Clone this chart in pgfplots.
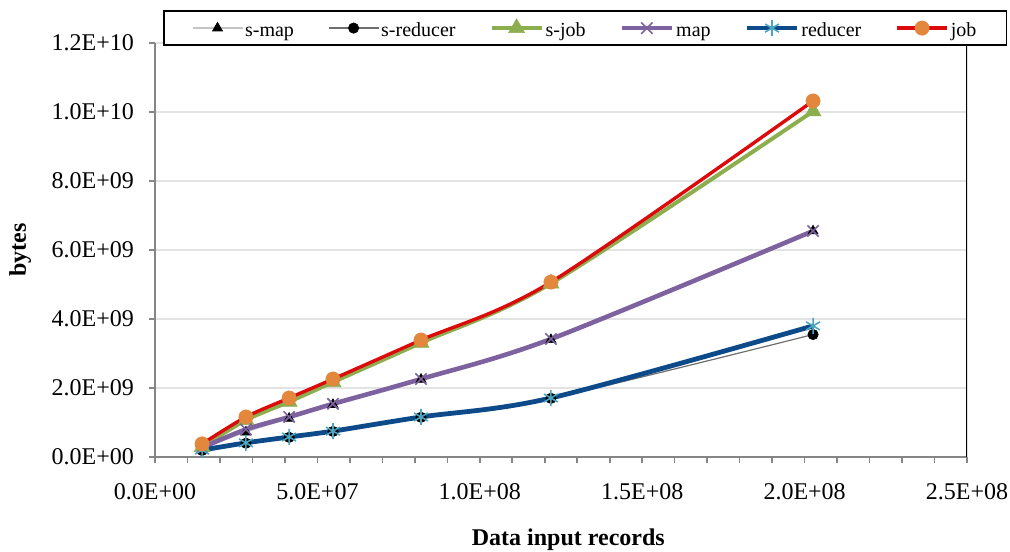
\documentclass[border=0pt]{standalone}
\usepackage{pgfplots}
\pgfplotsset{compat=1.18}
\usepackage{fontspec}
\setmainfont{Liberation Serif}
\definecolor{smapline}{HTML}{C4C4C4}
\definecolor{sredline}{HTML}{6E6E6E}
\definecolor{sjob}{HTML}{8DAE4F}
\definecolor{mapc}{HTML}{7E62A0}
\definecolor{redc}{HTML}{0D4A8A}
\definecolor{redmark}{HTML}{4AA5C0}
\definecolor{jobc}{HTML}{DC0A0A}
\definecolor{jobmark}{HTML}{E3873C}
\definecolor{axgray}{HTML}{868686}
\definecolor{gridc}{HTML}{E3E3E3}
\begin{document}
\begin{tikzpicture}
\useasboundingbox (0,0) rectangle (505pt,275.5pt);
\begin{axis}[
  at={(77.5pt,47pt)}, anchor=south west,
  scale only axis, width=406pt, height=207pt,
  xmin=0, xmax=2.5e8, ymin=0, ymax=1.2e10,
  axis x line*=bottom, axis y line*=left,
  axis line style={axgray, line width=0.8pt, -},
  tick align=outside,
  major tick length=3pt, minor tick length=3pt,
  tick style={axgray, line width=0.8pt},
  xtick={0,5e7,1e8,1.5e8,2e8,2.5e8},
  xticklabels={0.0E+00,5.0E+07,1.0E+08,1.5E+08,2.0E+08,2.5E+08},
  minor x tick num=4,
  ytick={0,2e9,4e9,6e9,8e9,1e10,1.2e10},
  yticklabels={0.0E+00,2.0E+09,4.0E+09,6.0E+09,8.0E+09,1.0E+10,1.2E+10},
  scaled ticks=false,
  ymajorgrids, major grid style={gridc, line width=0.6pt},
  ticklabel style={font=\fontsize{12}{14}\selectfont, text=black},
  xticklabel style={yshift=-6.5pt},
  yticklabel style={xshift=-4pt},
  xlabel={\textbf{Data input records}},
  ylabel={\textbf{bytes}},
  label style={font=\fontsize{12}{14}\selectfont},
  xlabel style={at={(axis description cs:0.509,-0.2)}, anchor=center},
  ylabel style={at={(axis description cs:-0.166,0.5)}, anchor=center},
  legend columns=6,
  legend style={at={(axis description cs:0.01,0.993)}, anchor=south west,
    draw=black, line width=0.8pt, inner xsep=14pt, inner ysep=3pt,
    font=\fontsize{10}{12}\selectfont,
    nodes={inner xsep=1pt, inner ysep=1pt, text height=8.5pt, text depth=0.5pt},
    /tikz/every even column/.append style={column sep=16pt}},
  legend image code/.code={\draw[mark repeat=2,mark phase=2,#1] plot coordinates {(0pt,0pt) (12.5pt,0pt) (25pt,0pt)};},
  legend cell align=left,
]
\addplot[smapline, line width=0.6pt, smooth, mark=triangle*, mark size=2.9pt, mark options={black, fill=black, line width=0.3pt}] table {
x y
1.45e7 0.25e9
2.80e7 0.72e9
4.13e7 1.12e9
5.48e7 1.52e9
8.19e7 2.25e9
1.219e8 3.40e9
2.026e8 6.55e9
};
\addlegendentry{s-map}
\addplot[sredline, line width=0.6pt, smooth, mark=*, mark size=2.6pt, mark options={black, fill=black, line width=0.3pt}] table {
x y
1.45e7 0.19e9
2.80e7 0.40e9
4.13e7 0.57e9
5.48e7 0.74e9
8.19e7 1.15e9
1.219e8 1.70e9
2.026e8 3.55e9
};
\addlegendentry{s-reducer}
\addplot[sjob, line width=2pt, smooth, mark=triangle*, mark size=4.6pt, mark options={sjob, fill=sjob, line width=0.3pt}] table {
x y
1.45e7 0.29e9
2.80e7 1.07e9
4.13e7 1.60e9
5.48e7 2.17e9
8.19e7 3.31e9
1.219e8 5.03e9
2.026e8 10.02e9
};
\addlegendentry{s-job}
\addplot[mapc, line width=2.3pt, smooth, mark=x, mark size=4pt, mark options={mapc, line width=0.8pt}] table {
x y
1.45e7 0.27e9
2.80e7 0.80e9
4.13e7 1.16e9
5.48e7 1.54e9
8.19e7 2.26e9
1.219e8 3.42e9
2.026e8 6.55e9
};
\addlegendentry{map}
\addplot[redc, line width=2.4pt, smooth, mark=asterisk, mark size=4pt, mark options={redmark, line width=0.8pt}] table {
x y
1.45e7 0.20e9
2.80e7 0.41e9
4.13e7 0.58e9
5.48e7 0.75e9
8.19e7 1.16e9
1.219e8 1.71e9
2.026e8 3.80e9
};
\addlegendentry{reducer}
\addplot[jobc, line width=1.7pt, smooth, mark=*, mark size=3.6pt, mark options={jobmark, fill=jobmark, line width=0.2pt}] table {
x y
1.45e7 0.38e9
2.80e7 1.16e9
4.13e7 1.71e9
5.48e7 2.26e9
8.19e7 3.39e9
1.219e8 5.07e9
2.026e8 10.32e9
};
\addlegendentry{job}
\draw[black, line width=0.8pt] (rel axis cs:1,0) -- (rel axis cs:1,1);
\end{axis}
\end{tikzpicture}
\end{document}
